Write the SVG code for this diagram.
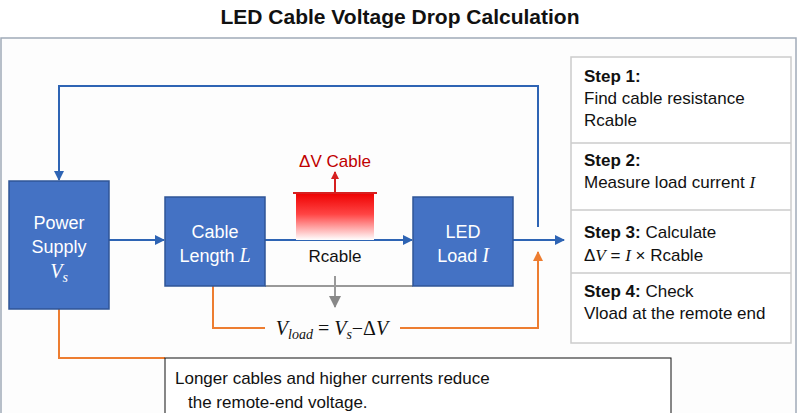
<svg xmlns="http://www.w3.org/2000/svg" width="800" height="413" viewBox="0 0 800 413">
<defs>
<style>
.box{fill:#4472c4;stroke:#2f5597;stroke-width:1.5}
.bt{fill:#fff;font-family:"Liberation Sans",Arial,sans-serif;font-size:18px;text-anchor:middle}
.t{font-family:"Liberation Sans",Arial,sans-serif;font-size:17px;fill:#111}
.m{font-family:"Liberation Serif","Times New Roman",serif;font-style:italic}
.blue{fill:none;stroke:#2e64b4;stroke-width:2}
.or{fill:none;stroke:#ed7d31;stroke-width:2}
.gr{fill:none;stroke:#999;stroke-width:2}
</style>
<marker id="ab" markerWidth="10" markerHeight="10" refX="9" refY="5" orient="auto" markerUnits="userSpaceOnUse"><path d="M0,0L10,5L0,10z" fill="#2e64b4"/></marker>
<marker id="ao" markerWidth="10" markerHeight="10" refX="9" refY="5" orient="auto" markerUnits="userSpaceOnUse"><path d="M0,0L10,5L0,10z" fill="#ed7d31"/></marker>
<marker id="ag" markerWidth="12" markerHeight="12" refX="11" refY="6" orient="auto" markerUnits="userSpaceOnUse"><path d="M0,0L12,6L0,12z" fill="#888"/></marker>
<marker id="ar" markerWidth="8" markerHeight="8" refX="7" refY="4" orient="auto" markerUnits="userSpaceOnUse"><path d="M0,0L8,4L0,8z" fill="#d62020"/></marker>
<linearGradient id="rg" x1="0" y1="0" x2="0" y2="1"><stop offset="0" stop-color="#ee0000"/><stop offset="0.45" stop-color="#f44"/><stop offset="1" stop-color="#fff"/></linearGradient>
</defs>
<rect width="800" height="413" fill="#fff"/>
<text x="400" y="24" text-anchor="middle" font-family="'Liberation Sans',Arial,sans-serif" font-size="21" font-weight="bold" fill="#111">LED Cable Voltage Drop Calculation</text>
<rect x="1" y="38" width="795" height="380" fill="#fdfdfd" stroke="#a0aab8" stroke-width="1.5"/>
<g id="connectors">
<path class="blue" d="M538,227V86H59V180" marker-end="url(#ab)"/>
<path class="blue" d="M109,240H164" marker-end="url(#ab)"/>
<path class="blue" d="M265,240H412" marker-end="url(#ab)"/>
<path class="blue" d="M513,240H564" marker-end="url(#ab)"/>
<path class="gr" d="M265,286H413"/>
<path class="gr" d="M335,276V307" marker-end="url(#ag)"/>
<path class="or" d="M213,286V328H265M400,328H538V252" marker-end="url(#ao)"/>
<path class="or" d="M59,309V358H165"/>
<rect x="296" y="193" width="78" height="47" fill="url(#rg)"/>
<path d="M293,193H377" stroke="#d62020" stroke-width="2"/>
<path d="M335,193V172" stroke="#d62020" stroke-width="2" marker-end="url(#ar)"/>
<text x="335" y="167" text-anchor="middle" font-family="'Liberation Sans',Arial,sans-serif" font-size="17" fill="#c00000">ΔV Cable</text>
<text x="335" y="262" text-anchor="middle" class="t">Rcable</text>
<text x="332" y="335" text-anchor="middle" font-family="'Liberation Serif',serif" font-size="20" fill="#111"><tspan font-style="italic">V</tspan><tspan font-style="italic" font-size="14" dy="4">load</tspan><tspan dy="-4"> = </tspan><tspan font-style="italic">V</tspan><tspan font-style="italic" font-size="14" dy="4">s</tspan><tspan dy="-4">−Δ</tspan><tspan font-style="italic">V</tspan></text>
</g>
<g id="power"><rect class="box" x="9" y="181" width="100" height="128"/>
<text class="bt" x="59" y="229">Power</text><text class="bt" x="59" y="253">Supply</text><text x="59" y="278" text-anchor="middle" font-family="'Liberation Serif',serif" font-style="italic" font-size="20" fill="#fff">V<tspan font-size="14" dy="4">s</tspan></text></g>
<g id="cable"><rect class="box" x="165" y="197" width="100" height="89"/>
<text class="bt" x="215" y="238">Cable</text><text class="bt" x="215" y="262">Length <tspan font-family="'Liberation Serif',serif" font-style="italic" font-size="20">L</tspan></text></g>
<g id="led"><rect class="box" x="413" y="197" width="100" height="89"/>
<text class="bt" x="463" y="238">LED</text><text class="bt" x="463" y="262">Load <tspan font-family="'Liberation Serif',serif" font-style="italic" font-size="20">I</tspan></text></g>
<g id="steps">
<rect x="571" y="57" width="220" height="286" fill="#fff" stroke="#ccc" stroke-width="1.5"/>
<path d="M571,143H791M571,210H791M571,273H791" stroke="#ccc" stroke-width="1.5"/>
<text class="t" x="584" y="82"><tspan font-weight="bold">Step 1:</tspan><tspan x="584" dy="22">Find cable resistance</tspan><tspan x="584" dy="22">Rcable</tspan></text>
<text class="t" x="584" y="166"><tspan font-weight="bold">Step 2:</tspan><tspan x="584" dy="22">Measure load current </tspan><tspan class="m">I</tspan></text>
<text class="t" x="584" y="238"><tspan font-weight="bold">Step 3:</tspan> Calculate<tspan x="584" dy="23">Δ</tspan><tspan class="m">V</tspan> = <tspan class="m">I</tspan> × Rcable</text>
<text class="t" x="584" y="297"><tspan font-weight="bold">Step 4:</tspan> Check<tspan x="584" dy="22">Vload at the remote end</tspan></text>
</g>
<g id="note"><rect x="165" y="358" width="506" height="70" fill="#fff" stroke="#111" stroke-width="1"/>
<text class="t" x="175" y="384">Longer cables and higher currents reduce<tspan x="188" dy="24">the remote-end voltage.</tspan></text></g>
</svg>
